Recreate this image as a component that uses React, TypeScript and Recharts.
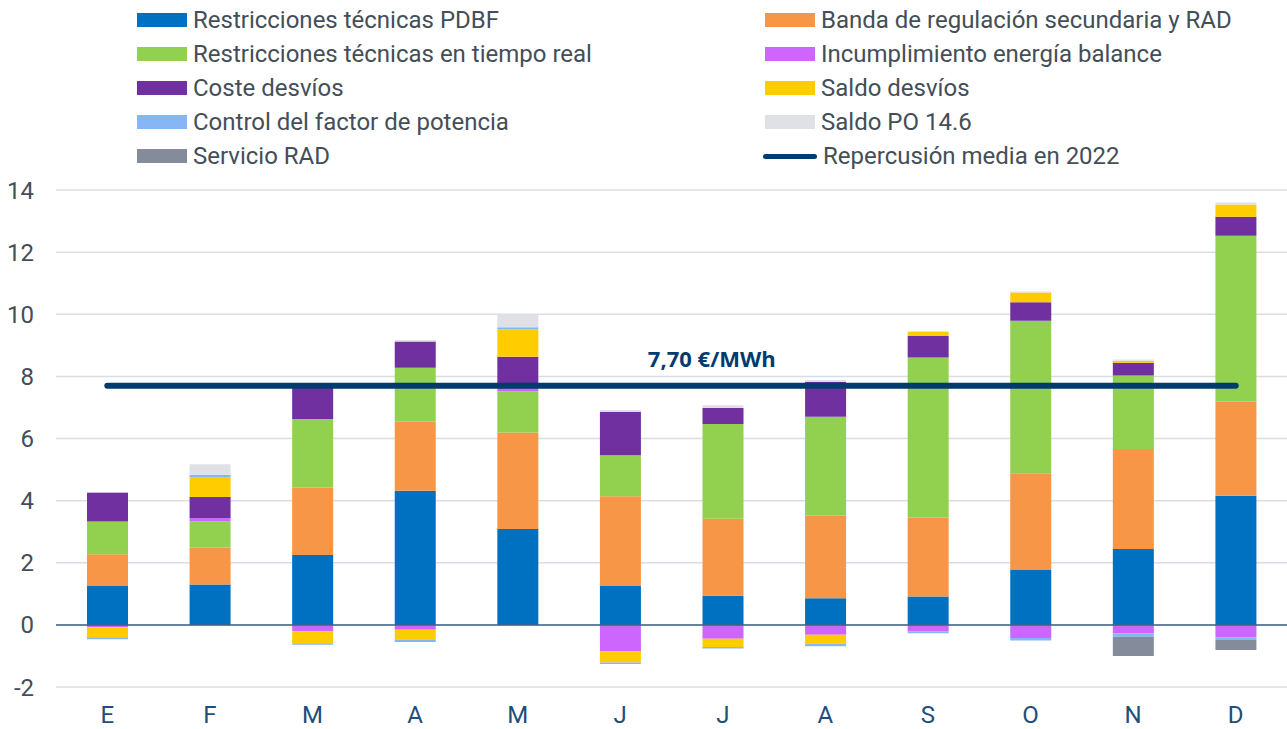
import React from "react";
import {
  ComposedChart,
  Bar,
  Line,
  XAxis,
  YAxis,
  CartesianGrid,
  ReferenceLine,
  LabelList,
} from "recharts";

const months = ["E", "F", "M", "A", "M", "J", "J", "A", "S", "O", "N", "D"];

const pdbf = [1.25, 1.3, 2.25, 4.32, 3.09, 1.27, 0.94, 0.86, 0.91, 1.77, 2.44, 4.16];
const banda = [1.02, 1.19, 2.17, 2.23, 3.1, 2.87, 2.48, 2.66, 2.55, 3.11, 3.22, 3.03];
const tiempoReal = [1.06, 0.85, 2.21, 1.73, 1.33, 1.32, 3.05, 3.18, 5.15, 4.91, 2.37, 5.34];
const incumplimiento = [-0.08, 0.1, -0.21, -0.16, 0.09, -0.84, -0.45, -0.32, -0.21, -0.42, -0.27, -0.41];
const costeDesvios = [0.93, 0.68, 1.05, 0.84, 1.02, 1.4, 0.51, 1.13, 0.69, 0.6, 0.41, 0.61];
const saldoDesvios = [-0.32, 0.64, -0.38, -0.31, 0.88, -0.37, -0.26, -0.29, 0.14, 0.31, 0.06, 0.39];
const controlFactor = [-0.06, 0.07, -0.05, -0.08, 0.07, -0.05, -0.05, -0.08, -0.06, -0.08, -0.11, -0.08];
const saldoPO = [0.02, 0.34, 0.02, 0.05, 0.41, 0.06, 0.09, 0.05, 0.02, 0.03, 0.04, 0.07];
const servicioRAD = [0, 0, 0, 0, 0, 0, 0, 0, 0, 0, -0.62, -0.32];
const media = [7.7, 7.7, 7.7, 7.7, 7.7, 7.7, 7.7, 7.7, 7.7, 7.7, 7.7, 7.7];

const yTicks = [-2, 0, 2, 4, 6, 8, 10, 12, 14];

const series = [
  { key: "pdbf", name: "Restricciones técnicas PDBF", color: "#0070C0", values: pdbf },
  { key: "banda", name: "Banda de regulación secundaria y RAD", color: "#F79646", values: banda },
  { key: "tr", name: "Restricciones técnicas en tiempo real", color: "#92D050", values: tiempoReal },
  { key: "inc", name: "Incumplimiento energía balance", color: "#CC66FF", values: incumplimiento },
  { key: "coste", name: "Coste desvíos", color: "#7030A0", values: costeDesvios },
  { key: "saldo", name: "Saldo desvíos", color: "#FFCC00", values: saldoDesvios },
  { key: "control", name: "Control del factor de potencia", color: "#86B6F6", values: controlFactor },
  { key: "po", name: "Saldo PO 14.6", color: "#E0E1E6", values: saldoPO },
  { key: "rad", name: "Servicio RAD", color: "#848C9C", values: servicioRAD },
];

const data = months.map((m, i) => {
  const row: Record<string, number | string> = { id: `${m}${i}`, media: media[i] };
  series.forEach((s) => (row[s.key] = s.values[i]));
  return row;
});

const NAVY = "#003B6F";
const TEXT = "#444E58";

function LegendBlock() {
  const left = [0, 2, 4, 6, 8];
  const right = [1, 3, 5, 7];
  const item = (label: string, swatch: React.ReactNode, top: number, x: number) => (
    <div
      key={label}
      style={{
        position: "absolute",
        left: x,
        top,
        height: 34,
        display: "flex",
        alignItems: "center",
        whiteSpace: "nowrap",
      }}
    >
      {swatch}
      <span style={{ marginLeft: 6, fontSize: 24, color: TEXT }}>{label}</span>
    </div>
  );
  return (
    <div style={{ position: "absolute", left: 0, top: 0, fontFamily: "Roboto" }}>
      {left.map((idx, r) =>
        item(
          series[idx].name,
          <div style={{ width: 50, height: 14, background: series[idx].color }} />,
          3 + r * 34,
          137
        )
      )}
      {right.map((idx, r) =>
        item(
          series[idx].name,
          <div style={{ width: 50, height: 14, background: series[idx].color }} />,
          3 + r * 34,
          765
        )
      )}
      {item(
        "Repercusión media en 2022",
        <div style={{ width: 54, height: 5, borderRadius: 3, background: NAVY, marginLeft: -2 }} />,
        3 + 4 * 34,
        765
      )}
    </div>
  );
}

const mediaLabel = (props: any) => {
  const { x, y, index } = props;
  if (index !== 6) return null;
  return (
    <text
      x={x - 11}
      y={y - 19}
      textAnchor="middle"
      fill={NAVY}
      fontFamily="'Open Sans'"
      fontWeight={700}
      fontSize={22}
    >
      7,70 €/MWh
    </text>
  );
};

export default function App() {
  return (
    <div style={{ position: "relative", width: 1287, height: 729, background: "#fff" }}>
      <style>{`body{margin:0}`}</style>
      <LegendBlock />
      <ComposedChart
        width={1287}
        height={729}
        data={data}
        stackOffset="sign"
        margin={{ top: 190, right: 0, bottom: 0, left: 0 }}
      >
        <CartesianGrid vertical={false} stroke="#DCDCE6" strokeWidth={1.5} />
        <XAxis
          dataKey="id"
          tickFormatter={(_v: string, i: number) => months[i]}
          axisLine={false}
          tickLine={false}
          tickSize={0}
          tickMargin={19}
          height={42}
          interval={0}
          tick={{ fontSize: 24, fill: "#1D4E7C", fontFamily: "Roboto" }}
        />
        <YAxis
          domain={[-2, 14]}
          ticks={yTicks}
          width={56}
          axisLine={false}
          tickLine={false}
          tickSize={0}
          tickMargin={22}
          tick={{ fontSize: 24, fill: TEXT, fontFamily: "Roboto" }}
        />
        {series.map((s) => (
          <Bar
            key={s.key}
            dataKey={s.key}
            stackId="a"
            fill={s.color}
            barSize={41}
            isAnimationActive={false}
          />
        ))}
        <ReferenceLine y={0} stroke="#3F6184" strokeWidth={1.5} />
        <Line
          dataKey="media"
          stroke={NAVY}
          strokeWidth={6}
          strokeLinecap="round"
          dot={false}
          activeDot={false}
          isAnimationActive={false}
        >
          <LabelList dataKey="media" content={mediaLabel} />
        </Line>
      </ComposedChart>
    </div>
  );
}
